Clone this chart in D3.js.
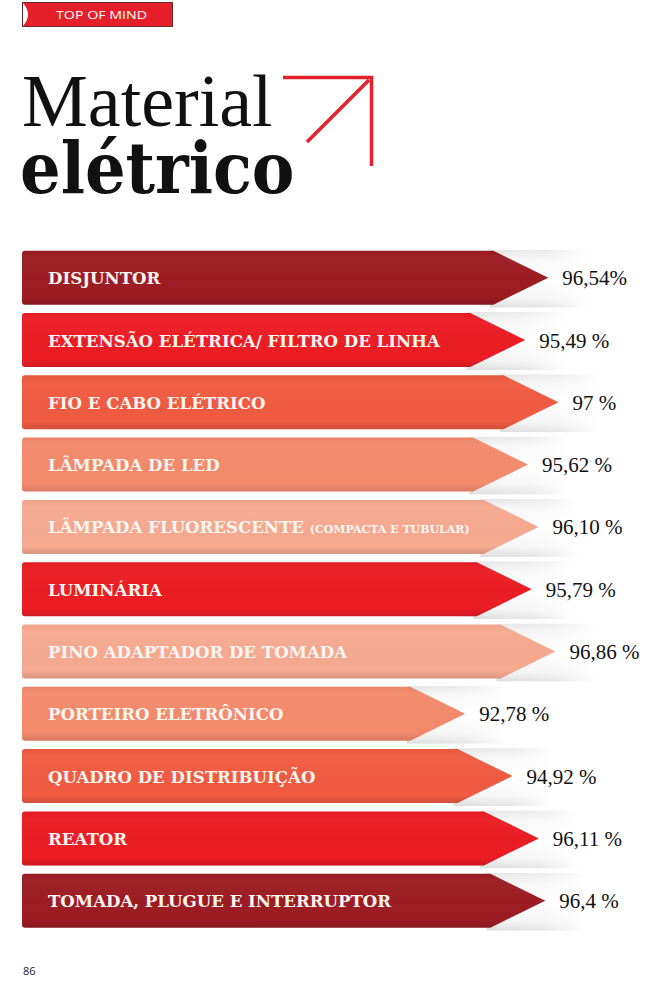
<!DOCTYPE html>
<html>
<head>
<meta charset="utf-8">
<script src="https://cdn.jsdelivr.net/npm/d3@7/dist/d3.min.js"></script>
<style>
  html, body { margin: 0; padding: 0; background: #ffffff; }
  svg { display: block; }
</style>
</head>
<body>
<svg id="chart" width="650" height="982"></svg>
<script>
// ---- data ----
const categories = [
  "DISJUNTOR",
  "EXTENSÃO ELÉTRICA/ FILTRO DE LINHA",
  "FIO E CABO ELÉTRICO",
  "LÂMPADA DE LED",
  "LÂMPADA FLUORESCENTE (COMPACTA E TUBULAR)",
  "LUMINÁRIA",
  "PINO ADAPTADOR DE TOMADA",
  "PORTEIRO ELETRÔNICO",
  "QUADRO DE DISTRIBUIÇÃO",
  "REATOR",
  "TOMADA, PLUGUE E INTERRUPTOR"
];
const values = [96.54, 95.49, 97, 95.62, 96.10, 95.79, 96.86, 92.78, 94.92, 96.11, 96.4];
const valueLabels = ["96,54%", "95,49 %", "97 %", "95,62 %", "96,10 %", "95,79 %", "96,86 %", "92,78 %", "94,92 %", "96,11 %", "96,4 %"];
const palette = ["#9c1c22", "#ec1c24", "#f05b41", "#f48a6c", "#f6aa90", "#ec1c24", "#f6aa90", "#f48a6c", "#f05b41", "#ec1c24", "#9c1c22"];

// ---- setup ----
const svg = d3.select("#chart");
const defs = svg.append("defs");

const y = d3.scaleBand().domain(categories).range([250.7, 927.7]).paddingInner(0.133).paddingOuter(0);
const x = d3.scaleLinear().domain([92, 97]).range([448, 558.5]);
const color = d3.scaleOrdinal().domain(categories).range(palette);
const x0 = 22;
const tipDepth = 55;
const r = 3;

// shadow gradient
const sg = defs.append("linearGradient").attr("id", "shadowV").attr("x1", 0).attr("y1", 0).attr("x2", 0).attr("y2", 1);
sg.append("stop").attr("offset", "0%").attr("stop-color", "#e4e4e4");
sg.append("stop").attr("offset", "18%").attr("stop-color", "#f6f6f6");
sg.append("stop").attr("offset", "50%").attr("stop-color", "#ffffff");
sg.append("stop").attr("offset", "82%").attr("stop-color", "#f3f3f3");
sg.append("stop").attr("offset", "100%").attr("stop-color", "#dcdcdc");
const fadeH = defs.append("linearGradient").attr("id", "fadeH").attr("x1", 0).attr("y1", 0).attr("x2", 1).attr("y2", 0);
fadeH.append("stop").attr("offset", "0%").attr("stop-color", "#fff").attr("stop-opacity", 1);
fadeH.append("stop").attr("offset", "60%").attr("stop-color", "#fff").attr("stop-opacity", 0.7);
fadeH.append("stop").attr("offset", "100%").attr("stop-color", "#fff").attr("stop-opacity", 0);
defs.append("mask").attr("id", "fadeMask").attr("maskContentUnits", "objectBoundingBox")
  .append("rect").attr("width", 1).attr("height", 1).attr("fill", "url(#fadeH)");

// bar shading
const shade = defs.append("linearGradient").attr("id", "shade").attr("x1", 0).attr("y1", 0).attr("x2", 0).attr("y2", 1);
shade.append("stop").attr("offset", "0%").attr("stop-color", "#000").attr("stop-opacity", 0.04);
shade.append("stop").attr("offset", "15%").attr("stop-color", "#fff").attr("stop-opacity", 0.03);
shade.append("stop").attr("offset", "85%").attr("stop-color", "#000").attr("stop-opacity", 0.0);
shade.append("stop").attr("offset", "100%").attr("stop-color", "#000").attr("stop-opacity", 0.12);

function arrowPath(d) {
  const top = y(d.cat), bot = top + y.bandwidth(), mid = top + y.bandwidth() / 2;
  const tip = x(d.val);
  const p = d3.path();
  p.moveTo(x0 + r, top);
  p.lineTo(tip - tipDepth, top);
  p.lineTo(tip, mid);
  p.lineTo(tip - tipDepth, bot);
  p.lineTo(x0 + r, bot);
  p.quadraticCurveTo(x0, bot, x0, bot - r);
  p.lineTo(x0, top + r);
  p.quadraticCurveTo(x0, top, x0 + r, top);
  p.closePath();
  return p.toString();
}

const data = categories.map((c, i) => ({ cat: c, val: values[i], lab: valueLabels[i] }));

const g = svg.append("g");

// shadows
g.selectAll("rect.shadow").data(data).join("rect")
  .attr("class", "shadow")
  .attr("x", d => x(d.val) - tipDepth - 4)
  .attr("y", d => y(d.cat) - 1)
  .attr("width", 100)
  .attr("height", y.bandwidth() + 4)
  .attr("fill", "url(#shadowV)")
  .attr("mask", "url(#fadeMask)");

// arrows
const bars = g.selectAll("g.bar").data(data).join("g").attr("class", "bar");
bars.append("path").attr("d", arrowPath).attr("fill", d => color(d.cat));
bars.append("path").attr("d", arrowPath).attr("fill", "url(#shade)");

// category labels
const labels = bars.append("text")
  .attr("x", 48)
  .attr("y", d => y(d.cat) + y.bandwidth() / 2 + 6.5)
  .attr("fill", "#fff6f2")
  .style("font-family", "'DejaVu Serif', serif")
  .style("font-weight", "bold")
  .style("font-size", "16.6px");
labels.each(function(d) {
  const t = d3.select(this);
  const idx = d.cat.indexOf("(");
  if (idx > 0) {
    t.append("tspan").text(d.cat.slice(0, idx));
    t.append("tspan").style("font-size", "11px").text(d.cat.slice(idx));
  } else {
    t.text(d.cat);
  }
});

// value labels
bars.append("text")
  .attr("x", d => x(d.val) + 14)
  .attr("y", d => y(d.cat) + y.bandwidth() / 2 + 7.5)
  .attr("fill", "#111")
  .style("font-family", "'Liberation Serif', serif")
  .style("font-size", "21px")
  .text(d => d.lab);

// ---- header ----
const hdr = svg.append("g");
hdr.append("rect").attr("x", 22.5).attr("y", 2.5).attr("width", 150).attr("height", 24)
  .attr("fill", "#e5202a").attr("stroke", "#6b2a2a").attr("stroke-width", 1);
hdr.append("path").attr("d", "M23,3 Q33,14.5 23,26 Z").attr("fill", "#ffffff");
hdr.append("text").attr("x", 56).attr("y", 19.3)
  .attr("textLength", 91).attr("lengthAdjust", "spacingAndGlyphs")
  .attr("fill", "#ffffff")
  .style("font-family", "'Open Sans', sans-serif").style("font-size", "11.5px")
  .text("TOP OF MIND");

// ---- title ----
svg.append("text").attr("x", 22).attr("y", 126)
  .attr("fill", "#111")
  .style("font-family", "'Liberation Serif', serif").style("font-size", "74px")
  .text("Material");
const t2 = svg.append("text").attr("x", 20).attr("y", 193)
  .attr("fill", "#111")
  .style("font-family", "'DejaVu Serif Condensed', 'DejaVu Serif', serif")
  .style("font-stretch", "condensed")
  .style("font-weight", "bold").style("font-size", "71px")
  .text("elétrico");
const len2 = t2.node().getComputedTextLength();
if (Math.abs(len2 - 273) > 4) {
  t2.attr("textLength", 273).attr("lengthAdjust", "spacingAndGlyphs");
}

// title arrow
const arr = svg.append("g").attr("stroke", "#e4202a").attr("stroke-width", 3.5).attr("fill", "none");
arr.append("path").attr("d", "M283,77.5 L371.5,77.5 L371.5,166");
arr.append("path").attr("d", "M369,80 L307,142");

// page number
svg.append("text").attr("x", 23).attr("y", 975)
  .attr("fill", "#222")
  .style("font-family", "'Open Sans', sans-serif").style("font-size", "11px")
  .text("86");
</script>
</body>
</html>
